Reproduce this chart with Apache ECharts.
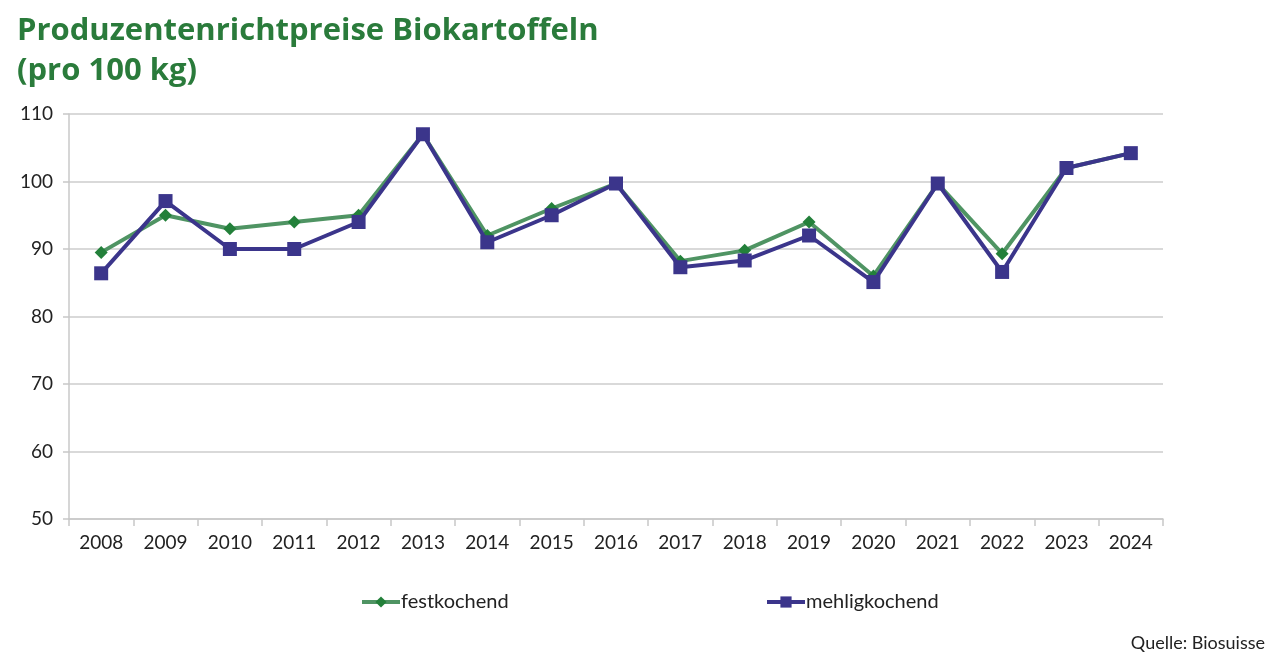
<!DOCTYPE html>
<html><head><meta charset="utf-8">
<script src="https://cdn.jsdelivr.net/npm/echarts@6/dist/echarts.min.js"></script>
<style>html,body{margin:0;padding:0;background:#fff}#c{width:1280px;height:672px}</style>
</head><body><div id="c"></div>
<script>
const years = ['2008','2009','2010','2011','2012','2013','2014','2015','2016','2017','2018','2019','2020','2021','2022','2023','2024'];
const festkochend = [89.5,95.0,93.0,94.0,95.0,107.0,92.0,96.0,99.7,88.2,89.8,94.0,86.0,99.7,89.3,102.0,104.2];
const mehligkochend = [86.4,97.1,90.0,90.0,94.0,107.0,91.0,95.0,99.7,87.3,88.3,92.0,85.1,99.7,86.6,102.0,104.2];
const yTicks = [50,60,70,80,90,100,110];
const titleText = 'Produzentenrichtpreise Biokartoffeln\n(pro 100 kg)';
const sourceText = 'Quelle: Biosuisse';

const FONT = 'Lato';
const chart = echarts.init(document.getElementById('c'));
chart.setOption({
  animation:false,
  title:{text:titleText,left:12,top:6,textStyle:{fontFamily:'Open Sans',fontWeight:'bold',fontSize:31,color:'#2a7b3b',lineHeight:40}},
  graphic:[{type:'text',right:15,top:634,style:{text:sourceText,font:'18px '+FONT,fill:'#222'}}],
  grid:{left:69,right:117,top:114,bottom:153},
  legend:[
    {data:['festkochend'],left:355,top:587,itemWidth:38,itemHeight:14,lineStyle:{width:4},textStyle:{fontFamily:FONT,fontSize:20,color:'#222',padding:[0,0,0,-4]}},
    {data:['mehligkochend'],left:760,top:587,itemWidth:38,itemHeight:14,lineStyle:{width:4},textStyle:{fontFamily:FONT,fontSize:20,color:'#222',padding:[0,0,0,-4]}}
  ],
  xAxis:{type:'category',data:years,boundaryGap:true,
    axisLine:{lineStyle:{color:'#c8c8c8',width:1.5}},
    axisTick:{show:true,length:7,lineStyle:{color:'#c8c8c8',width:1.5}},
    axisLabel:{fontFamily:FONT,fontSize:19,color:'#222',margin:14}},
  yAxis:{type:'value',min:50,max:110,interval:10,
    axisLine:{show:true,lineStyle:{color:'#c8c8c8',width:1.5}},
    axisTick:{show:true,length:6,lineStyle:{color:'#c8c8c8',width:1.5}},
    splitLine:{lineStyle:{color:'#cccccc',width:1.5}},
    axisLabel:{fontFamily:FONT,fontSize:19,color:'#222',margin:16,
      formatter:v=>yTicks.includes(v)?String(v):''}},
  series:[
    {name:'festkochend',type:'line',data:festkochend,symbol:'diamond',symbolSize:13,
      lineStyle:{color:'#4f9463',width:4},itemStyle:{color:'#23803a'},z:2},
    {name:'mehligkochend',type:'line',data:mehligkochend,symbol:'rect',symbolSize:14,
      lineStyle:{color:'#3b358b',width:4},itemStyle:{color:'#3b358b'},z:3}
  ]
});
</script></body></html>
